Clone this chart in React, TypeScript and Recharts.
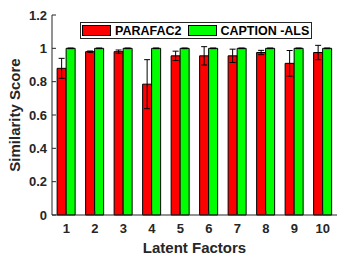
import { Bar, BarChart, ErrorBar, Label, Legend, XAxis, YAxis } from "recharts";

const factors = ["1", "2", "3", "4", "5", "6", "7", "8", "9", "10"];
const parafac2 = [0.88, 0.98, 0.98, 0.785, 0.955, 0.955, 0.955, 0.975, 0.91, 0.975];
const parafac2Err = [0.06, 0.004, 0.01, 0.147, 0.028, 0.055, 0.04, 0.013, 0.077, 0.043];
const captionAls = [1, 1, 1, 1, 1, 1, 1, 1, 1, 1];
const captionAlsErr = [0.002, 0.002, 0.002, 0.002, 0.002, 0.002, 0.002, 0.002, 0.002, 0.002];
const yTicks = [0, 0.2, 0.4, 0.6, 0.8, 1, 1.2];

const data = factors.map((name, i) => ({
  name,
  parafac2: parafac2[i],
  parafac2Err: parafac2Err[i],
  captionAls: captionAls[i],
  captionAlsErr: captionAlsErr[i],
}));

const FONT = "'Liberation Sans', Arial, sans-serif";
const INK = "#262626";

const LegendBox = () => (
  <div
    style={{
      display: "flex",
      alignItems: "center",
      height: 15,
      border: `1px solid ${INK}`,
      background: "#fff",
      padding: "0 2px 0 1px",
      fontFamily: FONT,
      fontWeight: 700,
      fontSize: 12.5,
      color: "#000",
      whiteSpace: "nowrap",
    }}
  >
    <span style={{ width: 27, height: 9, background: "#FF0000", border: "1px solid #000", marginRight: 4 }} />
    <span style={{ marginRight: 7 }}>PARAFAC2</span>
    <span style={{ width: 27, height: 9, background: "#00FF00", border: "1px solid #000", marginRight: 3 }} />
    <span>CAPTION -ALS</span>
  </div>
);

const tickStyle = { fill: INK, fontSize: 13, fontWeight: 700, fontFamily: FONT };

export default function App() {
  return (
    <div style={{ position: "absolute", left: 0, top: 0, background: "#fff" }}>
      <BarChart
        width={337}
        height={257}
        data={data}
        margin={{ top: 15, right: 0, left: 0, bottom: 12 }}
        barCategoryGap="18%"
        barGap={0}
      >
        <XAxis
          dataKey="name"
          height={30}
          stroke={INK}
          tickSize={-4}
          tickMargin={13}
          tick={tickStyle}
          interval={0}
        >
          <Label
            value="Latent Factors"
            position="center"
            dy={18}
            style={{ fill: INK, fontSize: 15, fontWeight: 700, fontFamily: FONT }}
          />
        </XAxis>
        <XAxis
          xAxisId="top"
          dataKey="name"
          orientation="top"
          height={0}
          stroke={INK}
          tickSize={-4}
          tickFormatter={() => ""}
          interval={0}
        />
        <YAxis
          width={52}
          domain={[0, 1.2]}
          ticks={yTicks}
          stroke={INK}
          tickSize={-4}
          tickMargin={9}
          tick={tickStyle}
          interval={0}
        >
          <Label
            value="Similarity Score"
            position="center"
            angle={-90}
            dx={-11}
            style={{ fill: INK, fontSize: 15, fontWeight: 700, fontFamily: FONT, textAnchor: "middle" }}
          />
        </YAxis>
        <YAxis
          yAxisId="right"
          orientation="right"
          width={0}
          domain={[0, 1.2]}
          ticks={yTicks}
          stroke={INK}
          tickSize={-4}
          tickFormatter={() => ""}
          interval={0}
        />
        <Legend
          layout="horizontal"
          verticalAlign="middle"
          content={<LegendBox />}
          wrapperStyle={{ left: 80, top: 22, width: "auto" }}
        />
        <Bar dataKey="parafac2" fill="#FF0000" stroke="#000" strokeWidth={1} isAnimationActive={false}>
          <ErrorBar dataKey="parafac2Err" width={3} stroke="#000" strokeWidth={1} />
        </Bar>
        <Bar dataKey="captionAls" fill="#00FF00" stroke="#000" strokeWidth={1} isAnimationActive={false}>
          <ErrorBar dataKey="captionAlsErr" width={3} stroke="#000" strokeWidth={1} />
        </Bar>
      </BarChart>
    </div>
  );
}
